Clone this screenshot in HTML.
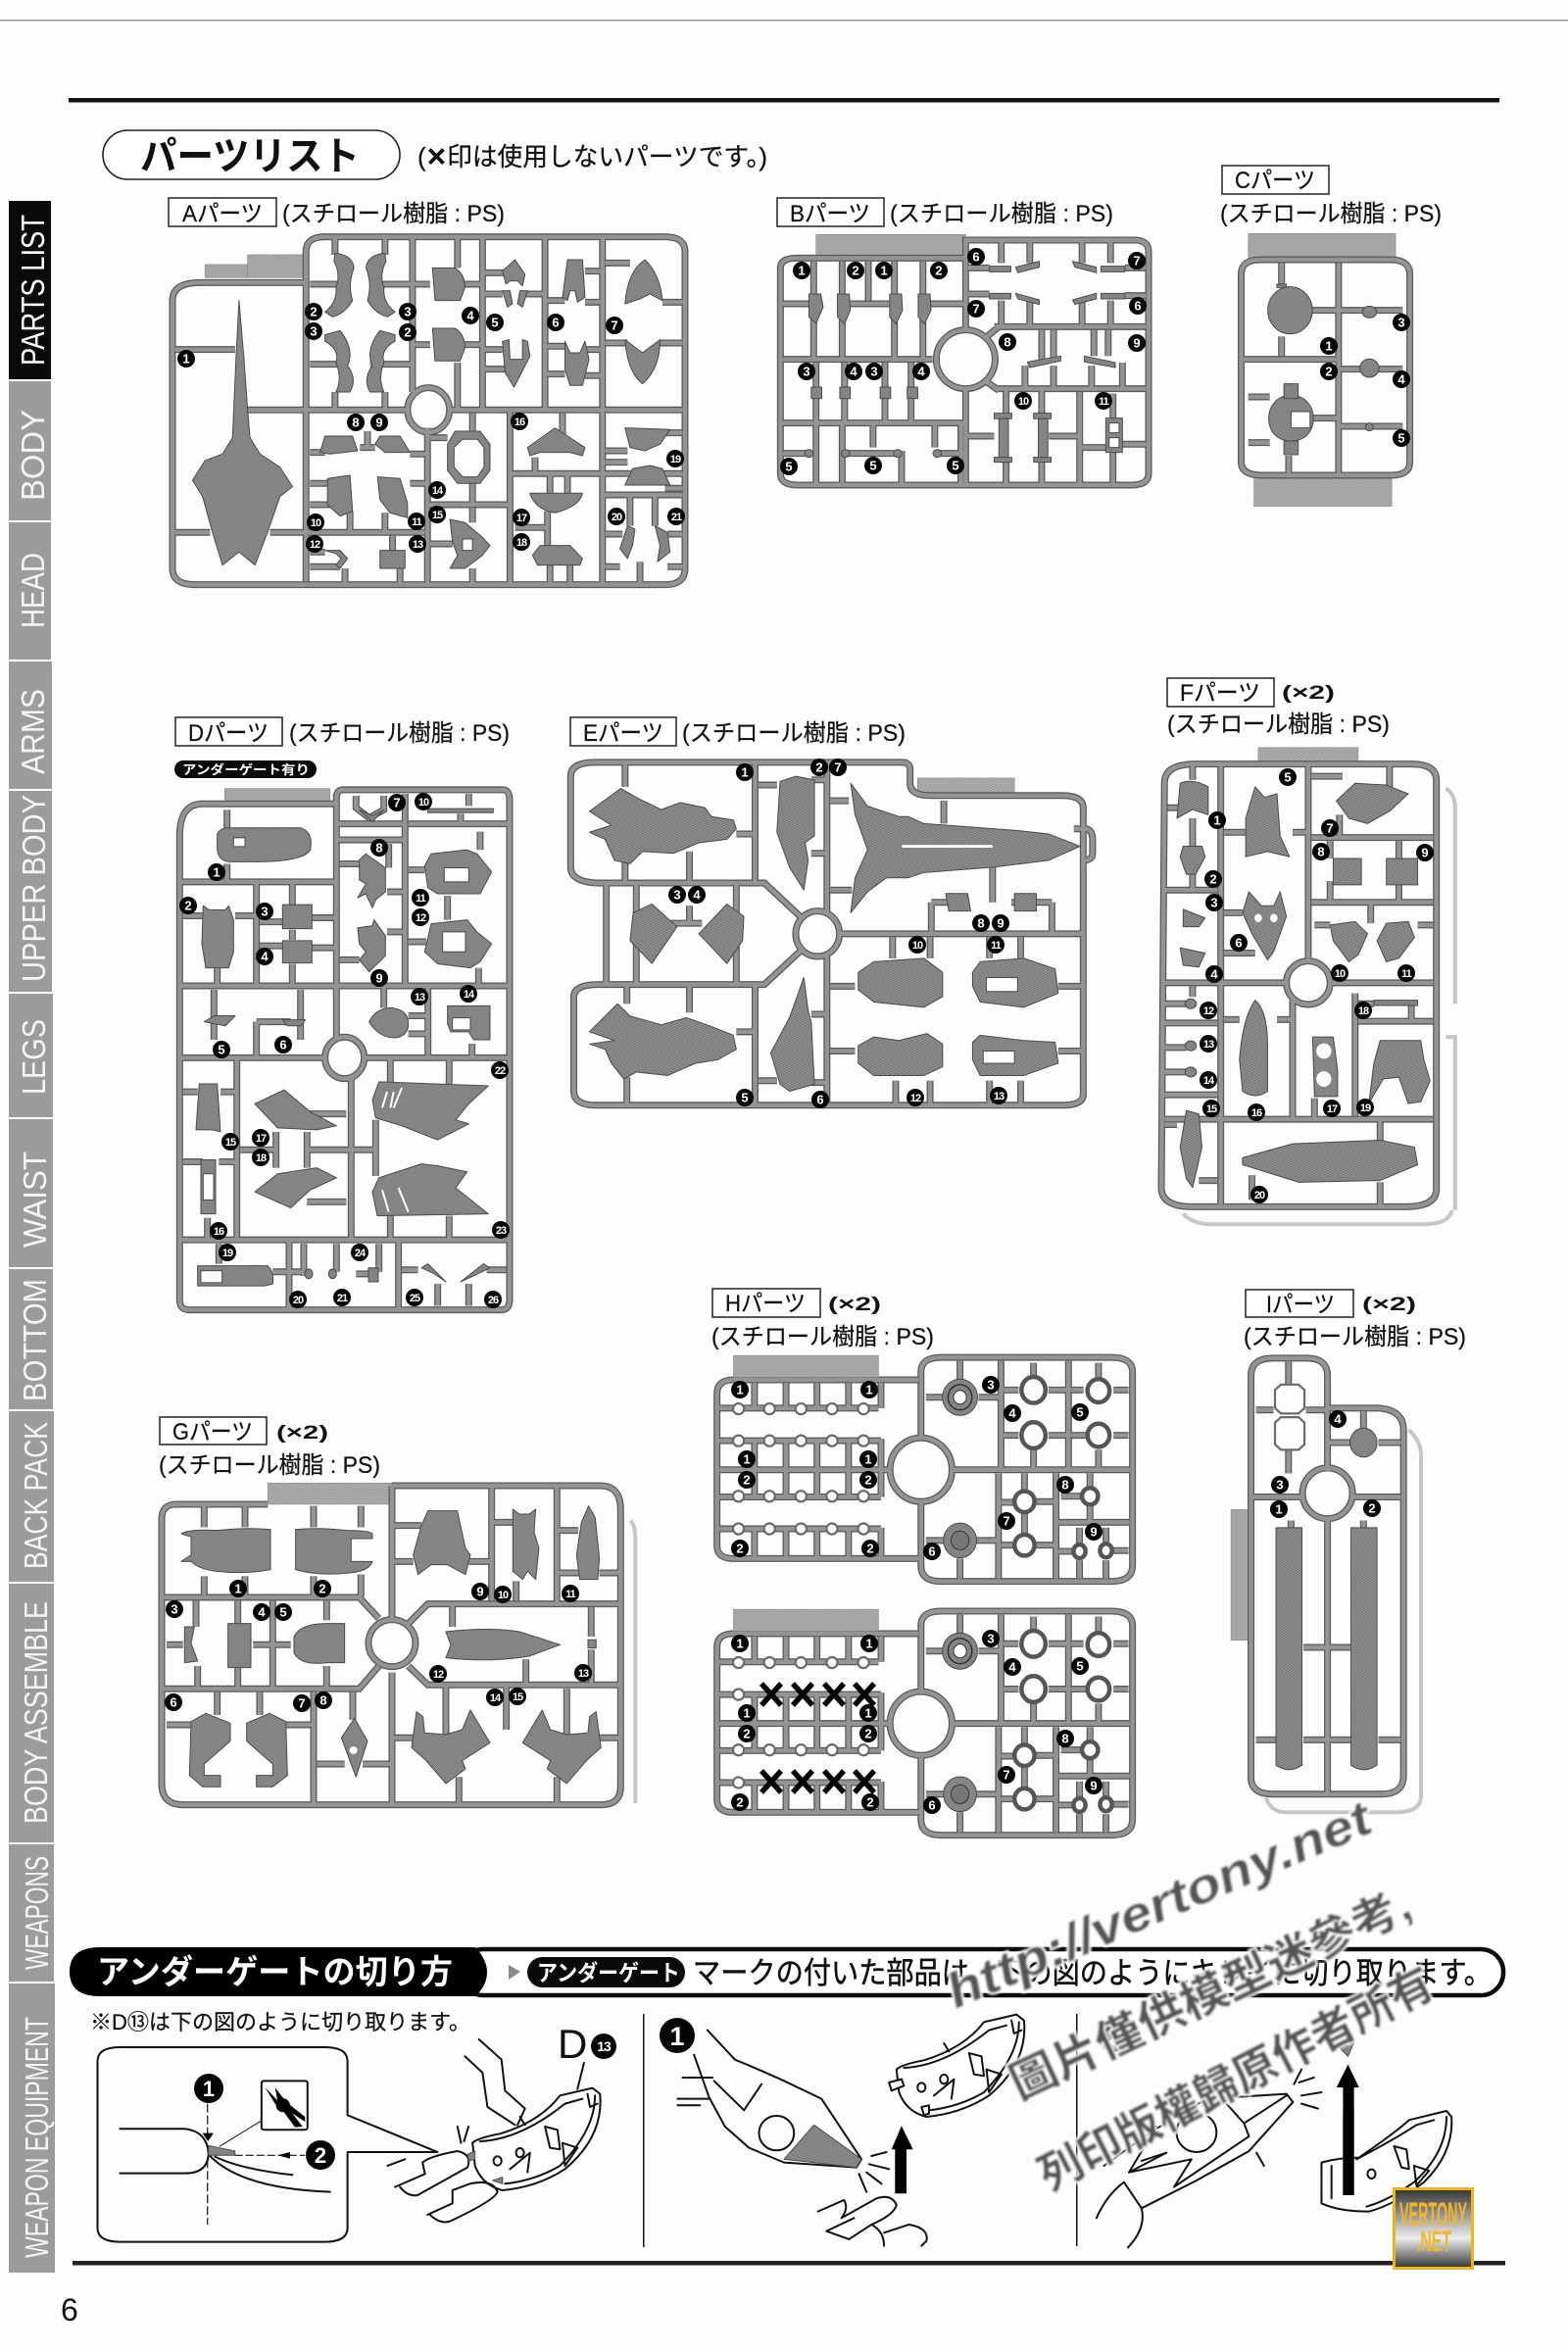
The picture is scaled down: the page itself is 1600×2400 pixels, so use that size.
<!DOCTYPE html>
<html lang="ja"><head><meta charset="utf-8"><title>パーツリスト</title>
<style>
html,body{margin:0;padding:0;background:#fdfdfb}
svg{display:block;font-family:"Liberation Sans","Noto Sans CJK JP",sans-serif}
path,ellipse,rect,line,polygon,circle{vector-effect:non-scaling-stroke}
.o{stroke:#5a5a5a;stroke-width:7;fill:none}
.i{stroke:#949494;stroke-width:4.4;fill:none}
.p{fill:url(#h);stroke:#4a4a4a;stroke-width:1;stroke-linejoin:round}
.w{fill:#fdfdfb;stroke:#4a4a4a;stroke-width:1}
.t{fill:url(#h2);stroke:#888;stroke-width:.6}
.g{fill:none;stroke:#c6c6c6;stroke-width:4}
.s{fill:none;stroke:#111;stroke-width:2;stroke-linejoin:round;stroke-linecap:round}
.sw{fill:#fff;stroke:#111;stroke-width:2;stroke-linejoin:round}
.k{fill:#000;stroke:none}
.rg{fill:#fdfdfb;stroke:#6a6a6a;stroke-width:2.2}
.rb{fill:#fdfdfb;stroke:#555;stroke-width:4.5}
.b circle{fill:#050505;r:9px}
.b text{fill:#fff;font-size:13px;font-weight:700;text-anchor:middle}
.b text.d{font-size:11px;letter-spacing:-1px}
.lb{fill:#fff;stroke:#222;stroke-width:1.5}
.l{font-size:24px;fill:#111;stroke:#111;stroke-width:.25}
.x2{font-size:19px;font-weight:700;fill:#111}
.sd{fill:#9c9c9c}
.st{font-size:33px;fill:#f5f5f5}
.wm{fill:#555;stroke:#fff;stroke-width:4;paint-order:stroke;filter:url(#bl);font-weight:700}
</style></head><body>
<svg xmlns="http://www.w3.org/2000/svg" width="1600" height="2400" viewBox="0 0 1600 2400">
<defs>
<pattern id="h" width="5" height="5" patternUnits="userSpaceOnUse" patternTransform="rotate(45)"><rect width="5" height="5" fill="#929292"/><rect width="2" height="5" fill="#707070"/></pattern>
<pattern id="h2" width="5" height="5" patternUnits="userSpaceOnUse" patternTransform="rotate(45)"><rect width="5" height="5" fill="#b2b2b2"/><rect width="2" height="5" fill="#949494"/></pattern>
<filter id="bl"><feGaussianBlur stdDeviation="1.1"/></filter>
<linearGradient id="lg" x1="0" y1="0" x2="0" y2="1"><stop offset="0" stop-color="#333"/><stop offset=".62" stop-color="#eee"/><stop offset="1" stop-color="#333"/></linearGradient>

<g id="ra">
<path d="M345 1440V620Q345 565 400 565H612M612 1480V470Q612 425 650 425H1330Q1370 425 1370 470V1440Q1370 1490 1330 1490H390Q345 1490 345 1440"/>
<ellipse cx="857" cy="955" rx="42" ry="68"/>
<path d="M495 955H815M900 955H1365M825 430V900M965 430V950M1090 430V950M1205 430V1485M1020 960V1485M855 1010V1485M1020 1150H1365M855 1245H1020M1205 1215H1365M345 1330H420M540 1330H850"/>
<path d="M350 770H470M670 430V480M770 430V480M620 570H680M750 570H825M620 815H680M740 815H825M670 900V950M770 900V950M825 570H860M930 570H965M825 755H860M930 755H965M915 430V520M915 810V950M965 535H1010M965 600H1005M1040 600H1090M965 770H1005M965 830H1010M1090 620H1130M1090 760H1130M1090 845H1130M1170 530H1210M1170 625H1205M1170 770H1205M1170 850H1205M1210 505H1260M1325 625H1365M1210 750H1255M1320 750H1365M735 1020V1070M720 1070H750M620 1085H650M820 1090H855M620 1180H655M820 1180H855M620 1245H660M700 1265V1330M770 1270V1330M620 1390H650M620 1435H680M785 1340V1385M690 1440V1485M800 1440V1485M860 1040H895M860 1365H905M945 965V1020M945 1180V1240M945 1255V1300M945 1440V1485M1070 1100V1150M1125 965V1030M1100 1150V1210M1135 1150V1210M1095 1265V1370M1030 1315H1095M1100 1430V1485M1140 1430V1485M1210 1080H1255M1210 1115H1255M1330 1025H1365M1330 1195H1365M1260 1220V1310M1310 1220V1310M1210 1335H1245M1335 1335H1365M1210 1435H1240M1335 1435H1365M1280 1420V1485"/>
</g>

<g id="rb">
<path d="M465 370V315H820Q850 315 850 350V1030Q850 1065 815 1065H110Q75 1065 75 1030V400Q75 370 110 370H465M465 370V590M465 770V1060M80 680H395M80 875H465M525 580H845M525 770H845"/>
<ellipse cx="465" cy="680" rx="62" ry="90"/>
<path d="M510 610L535 580M510 750L535 775M145 380V680M205 380V680M260 380V500M315 380V680M375 380V680M80 510H135M220 510H305M390 510H465M150 690V870M210 690V870M295 690V870M350 690V870M150 880V1060M205 880V1060M270 880V950M330 960V1060M400 880V950M455 880V1060M80 968H130M215 968H315M400 968H465"/>
<path d="M540 320V385M600 320V385M710 320V385M770 320V385M540 500V580M600 500V580M710 500V580M770 500V580M470 400H515M470 480H515M800 400H845M800 485H845M625 590V680M650 590V680M735 590V670M765 590V670M590 700V770M650 700V770M730 700V770M795 690V770M550 770V850M625 770V850M550 985V1060M625 985V1060M465 915H525M640 915H700M705 780V1060M710 950H760M790 940H845M775 785V860M775 965V1060"/>
</g>

<g id="rc">
<path d="M1045 420Q1045 375 1085 375H1360Q1400 375 1400 420V995Q1400 1035 1360 1035H1090Q1045 1035 1045 995ZM1250 385V1030M1050 680H1245M1130 385V455M1130 610V670M1195 530H1250M1250 530H1385M1250 710H1385M1250 885H1385M1195 860H1250M1060 795H1105M1060 935H1105M1145 975V1030"/>
</g>

<g id="rd">
<path d="M100 350Q100 270 170 270H575M580 280V255Q580 235 600 235H1090Q1110 235 1110 260V1510Q1110 1535 1085 1535H130Q100 1535 100 1510V350M580 245V860M790 245V720M100 725H1110M100 905H540M665 905H1110M100 465H575M335 465V720M580 320H785M800 320H1105M585 360H790M275 905V1360M100 1360H1110M625 950V1360M770 1365V1530M435 1365V1530M285 1135H395M495 1135H700M860 730V905M335 815V905M335 815H440"/>
<ellipse cx="605" cy="905" rx="60" ry="52"/>
<path d="M245 285V330M245 420V465M215 680V725M270 550H335M110 550H170M445 470V525M445 585V610M445 670V720M345 565H415M345 625H415M505 555H575M505 630H575M590 420H650M735 490H790M590 660H650M735 590H790M740 370V430M725 730V780M800 435H850M800 615H855M920 500V560M1020 340V385M1015 680V725M205 735V860M470 735V860M800 800H855M800 845H855M995 870V905M640 250V280L680 305L725 285V250M985 245V275M960 295V320M745 910V970M925 910V970M745 1300V1355M925 1300V1355M700 1060V1200M110 990H155M225 990H270M110 1165H170M220 1165H270M185 1305V1355M480 1370V1450M580 1370V1440M710 1370V1440M640 1445H680M385 1440H480M220 1370V1420M890 1470V1525M985 1470V1525M780 1435H830M1040 1435H1100M490 1045H610M490 1265H610M395 1090V1180M490 1090V1180"/>
</g>

<g id="re">
<path d="M75 535Q35 530 35 490V230Q35 190 75 190H565Q578 190 578 210V250Q578 285 610 285H820Q855 285 855 320V1140Q855 1170 820 1170H75Q40 1170 40 1130V860Q40 825 80 825H345L405 725M405 635L345 535H75M92 535V825M140 540V820M300 540V820M330 195V535M330 825V1165M445 195V625M445 735V1165M465 680H855M612 590V675M805 590V675M612 590H670M740 590H805"/>
<ellipse cx="430" cy="680" rx="35" ry="65"/>
<path d="M840 380H860Q870 385 870 410V450Q870 470 855 470M122 195V260M122 470V530M225 445V530M125 830V880M225 830V905M125 1090V1170M300 395H330M300 960H330M335 255H365M335 1100H365M420 240H445M420 450H445M420 910H445M420 1105H445M450 300H480M450 555H485M632 300V365M710 490V590M450 830H490M450 1015H490M815 830H855M815 1015H855M550 690V750M610 690V750M705 690V750M755 690V750M555 1100V1165M610 1100V1165M705 1100V1165M755 1100V1165M195 650H245M225 600V650"/>
</g>

<g id="rf">
<path d="M985 250Q985 195 1035 195H1380Q1420 195 1420 240V1410Q1420 1460 1370 1460H1030Q980 1460 980 1405ZM1075 200V1455M1215 200V760M1220 405H1415M1220 590H1415M985 820H1180M1250 820H1415M1290 850V1200M1295 930H1415M985 1210H1415M985 555H1070M1190 870V1205M1080 925H1105M1165 925H1190M985 935H1070M985 1140H1070M985 880H1020M985 1005H1020M985 1075H1020"/>
<ellipse cx="1215" cy="820" rx="35" ry="62"/>
<path d="M1030 200V240M990 320H1010M1080 390H1115M1190 390H1215M1220 230H1270M1345 200V260M1265 340V405M1250 415V465M1250 530V590M1360 415V465M1360 530V585M1315 595V650M1225 655H1250M1390 655H1415M1030 830V860M1080 620H1110M1080 735H1130M1380 870V925M1295 880H1320M1225 1150V1210M1330 1215V1280M1125 1370V1440M1330 1390V1455M985 1225H1005M1040 1385H1070M1030 350V430M1030 510V555"/>
</g>

<g id="rg">
<path d="M45 360Q45 315 90 315H370M750 258H1390Q1450 260 1450 330V1180Q1450 1235 1390 1235H110Q45 1235 45 1170V360M750 260V665M750 830V1230M50 600H650L710 665M50 880H650L710 810M1445 620H860L800 680M1445 868H860L800 810"/>
<circle cx="750" cy="740" r="72"/>
<path d="M385 610V880M1055 260V610M1255 260V615M510 890V1230M955 1150V1235M1285 880V1030M1255 1150V1235M915 875V1020M1100 870V1005M1360 630V720M1360 760V865M1160 790V865M935 620V690M175 320V385M300 320V385M510 320V385M655 320V385M175 535V598M300 535V598M510 535V598M655 530V598M150 610V690M155 810V880M278 610V680M278 815V880M60 745H110M325 745H440M550 610V670M550 810V880M215 890V960M345 890V960M60 990H135M420 990H505M630 890V975M520 1110H605M660 1110H745M755 380H840M755 490H815M985 490H1050M1060 370H1125M1260 395H1320M1260 525H1325M1385 525H1445M1130 550V610M755 1030H820M1385 1030H1445"/>
</g>

<g id="rh">
<path d="M465 292H95Q62 292 62 330V750Q62 785 95 785H470M470 450V270Q470 230 510 230H850Q893 230 893 270V805Q893 848 850 848H510Q470 848 470 805V630"/>
<ellipse cx="470" cy="540" rx="62" ry="88"/>
<path d="M530 540H888M67 540H405M630 240V540M765 240V535M625 550V840M740 550V840M745 685H888M67 370H385M67 460H390M67 615H390M67 703H390M390 300V370M390 455V615M390 700V785M137 300V370M200 300V370M262 300V370M325 300V370M137 460V615M200 460V615M262 460V615M325 460V615M137 703V785M200 703V785M262 703V785M325 703V785"/>
<path d="M548 240V290M480 340H515M585 340H630M635 320H665M725 320H765M770 320H795M855 320H885M695 245V285M825 245V290M635 445H665M725 445H765M770 445H800M855 445H885M695 485V540M825 485V540M480 735H515M580 735H625M548 785V840M677 550V595M677 660V715M630 630H655M700 628H745M630 748H655M700 748H740M750 613H790M808 550V587M808 640V685M745 765H773M855 763H885M787 700V743M840 700V740M787 790V840M840 790V840"/>
</g>

<g id="hp">
<use href="#rh" class="o"/><use href="#rh" class="i"/>
<ellipse cx="548" cy="340" rx="35" ry="50" class="p"/><ellipse cx="548" cy="340" rx="24" ry="35" fill="none" stroke="#333" stroke-width="1.5"/><ellipse cx="548" cy="340" rx="13" ry="19" fill="#fdfdfb" stroke="#333"/>
<ellipse cx="695" cy="320" rx="24" ry="36" class="rb"/><ellipse cx="825" cy="322" rx="22" ry="32" class="rb"/><ellipse cx="695" cy="445" rx="24" ry="36" class="rb"/><ellipse cx="825" cy="445" rx="22" ry="32" class="rb"/>
<ellipse cx="548" cy="735" rx="33" ry="48" class="p"/><ellipse cx="548" cy="735" rx="18" ry="26" fill="#777" stroke="#333"/>
<ellipse cx="677" cy="628" rx="20" ry="29" class="rb"/><ellipse cx="677" cy="748" rx="20" ry="29" class="rb"/><ellipse cx="808" cy="613" rx="16" ry="23" class="rb"/><ellipse cx="787" cy="765" rx="12" ry="19" class="rb"/><ellipse cx="840" cy="763" rx="12" ry="19" class="rb"/>
<ellipse cx="105" cy="372" rx="11" ry="15" class="rg"/><ellipse cx="167" cy="372" rx="11" ry="15" class="rg"/><ellipse cx="230" cy="372" rx="11" ry="15" class="rg"/><ellipse cx="292" cy="372" rx="11" ry="15" class="rg"/><ellipse cx="355" cy="372" rx="11" ry="15" class="rg"/>
<ellipse cx="105" cy="613" rx="11" ry="15" class="rg"/><ellipse cx="167" cy="613" rx="11" ry="15" class="rg"/><ellipse cx="230" cy="613" rx="11" ry="15" class="rg"/><ellipse cx="292" cy="613" rx="11" ry="15" class="rg"/><ellipse cx="355" cy="613" rx="11" ry="15" class="rg"/>
<ellipse cx="105" cy="460" rx="11" ry="15" class="rg"/><ellipse cx="105" cy="703" rx="11" ry="15" class="rg"/>
<path class="t" d="M95 225H385V285H95Z"/>
</g>

<g id="pt">
<path class="sw" d="M945 800Q955 785 1000 772Q1080 735 1120 655L1185 632L1200 650Q1208 780 1130 880Q1075 935 1005 945Q965 930 950 870Z"/>
<path class="s" d="M960 795Q1040 790 1130 680L1165 665M1190 655Q1190 760 1120 870Q1070 915 1010 925M1175 650L1180 690L1195 680M1090 750L1115 760L1120 820L1100 815ZM1125 800L1155 815L1130 870ZM1040 720L1050 745M1020 880L1060 830L1055 890"/>
<ellipse class="s" cx="995" cy="855" rx="8" ry="14"/><ellipse class="s" cx="1040" cy="830" rx="8" ry="14"/>
</g>
</defs>

<rect width="1600" height="2400" fill="#fdfdfb"/>
<rect x="0" y="20" width="1600" height="1.5" fill="#999"/>
<rect x="70" y="100" width="1460" height="4.5" fill="#111"/>
<rect x="74" y="2307" width="1462" height="4.5" fill="#222"/>

<!-- sidebar -->
<rect x="9" y="205" width="43" height="182" fill="#0a0a0a"/>
<rect class="sd" x="9" y="389" width="43" height="142"/><rect class="sd" x="9" y="533" width="43" height="140"/><rect class="sd" x="9" y="675" width="44" height="130"/><rect class="sd" x="9" y="807" width="44" height="205"/><rect class="sd" x="9" y="1014" width="45" height="126"/><rect class="sd" x="9" y="1142" width="45" height="151"/><rect class="sd" x="9" y="1295" width="45" height="143"/><rect class="sd" x="9" y="1440" width="46" height="174"/><rect class="sd" x="9" y="1616" width="46" height="264"/><rect class="sd" x="9" y="1882" width="46" height="140"/><rect class="sd" x="9" y="2024" width="47" height="295"/>
<g class="st">
<text transform="translate(45,373) rotate(-90)" textLength="154" lengthAdjust="spacingAndGlyphs" fill="#fff">PARTS LIST</text>
<text transform="translate(45,511) rotate(-90)" textLength="93" lengthAdjust="spacingAndGlyphs">BODY</text>
<text transform="translate(45,641) rotate(-90)" textLength="77" lengthAdjust="spacingAndGlyphs">HEAD</text>
<text transform="translate(45,790) rotate(-90)" textLength="87" lengthAdjust="spacingAndGlyphs">ARMS</text>
<text transform="translate(46,1002) rotate(-90)" textLength="191" lengthAdjust="spacingAndGlyphs">UPPER BODY</text>
<text transform="translate(46,1117) rotate(-90)" textLength="77" lengthAdjust="spacingAndGlyphs">LEGS</text>
<text transform="translate(47,1273) rotate(-90)" textLength="98" lengthAdjust="spacingAndGlyphs">WAIST</text>
<text transform="translate(47,1430) rotate(-90)" textLength="125" lengthAdjust="spacingAndGlyphs">BOTTOM</text>
<text transform="translate(48,1601) rotate(-90)" textLength="150" lengthAdjust="spacingAndGlyphs">BACK PACK</text>
<text transform="translate(48,1861) rotate(-90)" textLength="227" lengthAdjust="spacingAndGlyphs">BODY ASSEMBLE</text>
<text transform="translate(49,2010) rotate(-90)" textLength="116" lengthAdjust="spacingAndGlyphs">WEAPONS</text>
<text transform="translate(49,2304) rotate(-90)" textLength="246" lengthAdjust="spacingAndGlyphs">WEAPON EQUIPMENT</text>
</g>

<!-- title -->
<rect x="105" y="133" width="303" height="50" rx="25" fill="#fff" stroke="#222" stroke-width="1.6"/>
<text x="143" y="173" font-size="40" font-weight="700" textLength="224" lengthAdjust="spacingAndGlyphs" fill="#111">パーツリスト</text>
<text x="426" y="169" font-size="26" textLength="357" lengthAdjust="spacingAndGlyphs" fill="#111" stroke="#111" stroke-width=".25">(<tspan font-weight="700">✕</tspan>印は使用しないパーツです。)</text>

<!-- labels -->
<rect class="lb" x="172" y="202" width="110" height="29"/><text class="l" x="186" y="226" textLength="82" lengthAdjust="spacingAndGlyphs">Aパーツ</text><text class="l" x="288" y="226" textLength="227" lengthAdjust="spacingAndGlyphs">(スチロール樹脂 : PS)</text>
<rect class="lb" x="793" y="202" width="109" height="29"/><text class="l" x="806" y="226" textLength="82" lengthAdjust="spacingAndGlyphs">Bパーツ</text><text class="l" x="908" y="226" textLength="228" lengthAdjust="spacingAndGlyphs">(スチロール樹脂 : PS)</text>
<rect class="lb" x="1247" y="169" width="109" height="29"/><text class="l" x="1260" y="192" textLength="82" lengthAdjust="spacingAndGlyphs">Cパーツ</text><text class="l" x="1245" y="226" textLength="226" lengthAdjust="spacingAndGlyphs">(スチロール樹脂 : PS)</text>
<rect class="lb" x="179" y="732" width="109" height="29"/><text class="l" x="192" y="756" textLength="82" lengthAdjust="spacingAndGlyphs">Dパーツ</text><text class="l" x="295" y="756" textLength="225" lengthAdjust="spacingAndGlyphs">(スチロール樹脂 : PS)</text>
<rect x="178" y="776" width="145" height="18" rx="9" fill="#0a0a0a"/><text x="186" y="790" font-size="13" font-weight="700" fill="#fff" textLength="130" lengthAdjust="spacingAndGlyphs">アンダーゲート有り</text>
<rect class="lb" x="582" y="732" width="108" height="29"/><text class="l" x="595" y="756" textLength="82" lengthAdjust="spacingAndGlyphs">Eパーツ</text><text class="l" x="696" y="756" textLength="228" lengthAdjust="spacingAndGlyphs">(スチロール樹脂 : PS)</text>
<rect class="lb" x="1191" y="692" width="109" height="29"/><text class="l" x="1204" y="715" textLength="82" lengthAdjust="spacingAndGlyphs">Fパーツ</text><text class="x2" x="1308" y="713" textLength="54" lengthAdjust="spacingAndGlyphs">(×2)</text><text class="l" x="1191" y="747" textLength="227" lengthAdjust="spacingAndGlyphs">(スチロール樹脂 : PS)</text>
<rect class="lb" x="163" y="1446" width="109" height="28"/><text class="l" x="176" y="1469" textLength="82" lengthAdjust="spacingAndGlyphs">Gパーツ</text><text class="x2" x="282" y="1468" textLength="53" lengthAdjust="spacingAndGlyphs">(×2)</text><text class="l" x="162" y="1503" textLength="226" lengthAdjust="spacingAndGlyphs">(スチロール樹脂 : PS)</text>
<rect class="lb" x="727" y="1315" width="110" height="29"/><text class="l" x="740" y="1338" textLength="82" lengthAdjust="spacingAndGlyphs">Hパーツ</text><text class="x2" x="845" y="1337" textLength="54" lengthAdjust="spacingAndGlyphs">(×2)</text><text class="l" x="726" y="1372" textLength="227" lengthAdjust="spacingAndGlyphs">(スチロール樹脂 : PS)</text>
<rect class="lb" x="1271" y="1316" width="110" height="28"/><text class="l" x="1292" y="1339" textLength="70" lengthAdjust="spacingAndGlyphs">Iパーツ</text><text class="x2" x="1390" y="1337" textLength="55" lengthAdjust="spacingAndGlyphs">(×2)</text><text class="l" x="1269" y="1372" textLength="227" lengthAdjust="spacingAndGlyphs">(スチロール樹脂 : PS)</text>

<!-- A -->
<g transform="translate(0,100) scale(.5102,.3333)">
<path class="t" d="M495 480H610V550H495ZM410 510H495V550H410Z"/>
<use href="#ra" class="o"/><use href="#ra" class="i"/>
<g class="p">
<path d="M478 620L488 800L495 950L500 1040L520 1090L560 1130L585 1190L560 1220L535 1330L510 1430L478 1390L445 1430L425 1330L405 1220L385 1170L410 1110L445 1090L465 1040L472 800Z"/>
<path d="M670 475Q705 480 708 520Q695 570 705 620Q690 660 665 670L650 655Q675 625 672 580Q682 540 668 500Z"/>
<path d="M770 475Q735 480 732 520Q745 570 735 620Q750 660 775 670L790 655Q765 625 768 580Q758 540 772 500Z"/>
<path d="M650 725L680 712Q710 770 695 820Q715 860 700 900H672Q685 860 672 810Q680 770 650 745Z"/>
<path d="M790 725L760 712Q730 770 745 820Q725 860 740 900H768Q755 860 768 810Q760 770 790 745Z"/>
<path d="M865 520H910Q930 540 930 580L920 620H870Z"/><path d="M865 705H910Q930 725 930 765L920 805H870Z"/>
<path d="M1030 495L1050 540L1045 575L1035 560H1020L1012 570L1005 530Z"/><path d="M1005 590L1020 590L1025 630L1015 640Z"/><path d="M1040 590L1055 590L1045 640L1035 630Z"/>
<path d="M1005 745L1018 740L1020 800L1045 800L1045 740L1055 745L1060 790L1040 850L1028 885L1010 840Z"/>
<path d="M1135 495H1165L1170 610L1155 625L1150 590H1140L1135 620L1125 610Z"/><path d="M1130 745L1140 780H1160L1170 745L1178 800L1165 880H1140L1130 830Z"/>
<path d="M1290 495Q1320 540 1325 620L1300 600L1280 615L1250 630Q1255 530 1290 495Z"/><path d="M1250 740L1285 780L1320 740Q1320 830 1285 875Q1255 840 1250 740Z"/>
<path d="M650 1035H705L715 1080L660 1090L640 1085Z"/><path d="M760 1035H800L820 1085L770 1085L750 1060Z"/>
<path d="M655 1165L700 1155L705 1265L680 1280L655 1245Z"/><path d="M755 1160L800 1165L815 1240L815 1285L780 1270L760 1230Z"/>
<path d="M650 1385L680 1385L695 1410L680 1440L672 1430L682 1410L672 1395Z"/><path d="M760 1385H810V1440H760Z"/>
<path fill-rule="evenodd" d="M910 1020H960L980 1060V1140L960 1180H915L895 1140V1060ZM925 1045H955L968 1070V1130L955 1160H925L908 1130V1070Z"/>
<path fill-rule="evenodd" d="M900 1290L930 1300L965 1345L980 1370L965 1400L930 1440L900 1440L915 1400L905 1360ZM925 1350H945V1385H925Z"/>
<path d="M1055 1070L1110 1010L1170 1070L1165 1095L1140 1085H1080L1060 1095Z"/>
<path d="M1060 1210H1165Q1160 1250 1110 1270Q1070 1260 1060 1210Z"/><path d="M1065 1400L1080 1370H1140L1165 1410L1160 1430H1075Z"/>
<path d="M1250 1010L1340 1015L1320 1060L1290 1080L1260 1070Z"/><path d="M1250 1185L1265 1135L1300 1125L1325 1135L1340 1185Z"/>
<path d="M1255 1310L1270 1320L1265 1370L1255 1410L1240 1380Z"/><path d="M1310 1310L1335 1330L1340 1390L1315 1420L1320 1370Z"/>
</g></g>
<g class="b"><circle cx="190" cy="366"/><text x="190" y="370.500">1</text><circle cx="320" cy="318"/><text x="320" y="322.500">2</text><circle cx="320" cy="338"/><text x="320" y="342.500">3</text><circle cx="416" cy="318"/><text x="416" y="322.500">3</text><circle cx="416" cy="339"/><text x="416" y="343.500">2</text><circle cx="480" cy="322"/><text x="480" y="326.500">4</text><circle cx="505" cy="329"/><text x="505" y="333.500">5</text><circle cx="567" cy="329"/><text x="567" y="333.500">6</text><circle cx="627" cy="332"/><text x="627" y="336.500">7</text><circle cx="363" cy="431"/><text x="363" y="435.500">8</text><circle cx="387" cy="431"/><text x="387" y="435.500">9</text>
<circle cx="322" cy="533"/><text class="d" x="322" y="537">10</text><circle cx="425" cy="532"/><text class="d" x="425" y="536">11</text><circle cx="321" cy="555"/><text class="d" x="321" y="559">12</text><circle cx="426" cy="555"/><text class="d" x="426" y="559">13</text><circle cx="446" cy="500"/><text class="d" x="446" y="504">14</text><circle cx="446" cy="525"/><text class="d" x="446" y="529">15</text><circle cx="530" cy="430"/><text class="d" x="530" y="434">16</text><circle cx="532" cy="528"/><text class="d" x="532" y="532">17</text><circle cx="532" cy="553"/><text class="d" x="532" y="557">18</text><circle cx="689" cy="468"/><text class="d" x="689" y="472">19</text><circle cx="629" cy="527"/><text class="d" x="629" y="531">20</text><circle cx="690" cy="527"/><text class="d" x="690" y="531">21</text></g>

<!-- B C -->
<g transform="translate(760,140) scale(.4847,.3333)">
<path class="t" d="M150 298H465V365H150Z"/>
<path class="t" d="M1060 295H1370V375H1060Z"/><path class="t" d="M1072 1035H1362V1130H1072Z"/>
<use href="#rb" class="o"/><use href="#rb" class="i"/>
<use href="#rc" class="o"/><use href="#rc" class="i"/>
<g class="p">
<path d="M135 480H160L165 520L150 570L135 550Z"/><path d="M195 480H220L222 530L210 572L195 550Z"/><path d="M305 480H330L332 530L318 572L305 550Z"/><path d="M365 480H390L392 530L378 572L365 550Z"/>
<path d="M140 765H162V800H140Z"/><path d="M200 765H222V800H200Z"/><path d="M285 765H307V800H285Z"/><path d="M342 765H364V800H342Z"/>
<path d="M515 395H560V412H515Z"/><path d="M570 398L620 380V398L575 415Z"/><path d="M690 380L740 398V415L695 398Z"/><path d="M750 395H800V412H750Z"/>
<path d="M515 478H560V495H515Z"/><path d="M570 478L620 498V512L575 495Z"/><path d="M690 498L740 478V495L695 512Z"/><path d="M750 478H800V495H750Z"/>
<path d="M595 688L665 670V685L600 705Z"/><path d="M715 670L780 690V705L715 688Z"/>
<path d="M525 845H562V862H525Z"/><path d="M525 980H562V995H525Z"/><path d="M535 862H555V980H535Z"/><path d="M608 845H645V862H608Z"/><path d="M608 980H645V995H608Z"/><path d="M618 862H638V980H618Z"/>
<path fill-rule="evenodd" d="M760 860H795V965H760ZM767 875H788V905H767ZM767 920H788V950H767Z"/>
<ellipse cx="1148" cy="530" rx="47" ry="72"/><path d="M1120 450H1140V460H1120Z"/>
<path fill-rule="evenodd" d="M1150 790C1180 790 1197 825 1197 860C1197 900 1180 930 1150 930C1120 930 1103 900 1103 860C1103 825 1120 790 1150 790ZM1150 840V890H1190V840Z"/>
<path d="M1135 755H1165V800H1135Z"/><path d="M1135 930H1165V972H1135Z"/>
<ellipse cx="1315" cy="535" rx="15" ry="18"/><ellipse cx="1315" cy="707" rx="20" ry="28"/><ellipse cx="1315" cy="887" rx="8" ry="12"/>
<ellipse cx="135" cy="968" rx="9" ry="12"/><ellipse cx="212" cy="968" rx="9" ry="12"/><ellipse cx="322" cy="968" rx="9" ry="12"/><ellipse cx="405" cy="968" rx="9" ry="12"/>
</g></g>
<g class="b"><circle cx="818" cy="276"/><text x="818" y="280.500">1</text><circle cx="873" cy="276"/><text x="873" y="280.500">2</text><circle cx="902" cy="276"/><text x="902" y="280.500">1</text><circle cx="958" cy="276"/><text x="958" y="280.500">2</text><circle cx="996" cy="262"/><text x="996" y="266.500">6</text><circle cx="1160" cy="266"/><text x="1160" y="270.500">7</text><circle cx="996" cy="315"/><text x="996" y="319.500">7</text><circle cx="1161" cy="312"/><text x="1161" y="316.500">6</text><circle cx="1028" cy="349"/><text x="1028" y="353.500">8</text><circle cx="1160" cy="350"/><text x="1160" y="354.500">9</text><circle cx="823" cy="379"/><text x="823" y="383.500">3</text><circle cx="871" cy="379"/><text x="871" y="383.500">4</text><circle cx="892" cy="379"/><text x="892" y="383.500">3</text><circle cx="940" cy="379"/><text x="940" y="383.500">4</text><circle cx="1044" cy="409"/><text class="d" x="1044" y="413">10</text><circle cx="1126" cy="409"/><text class="d" x="1126" y="413">11</text><circle cx="805" cy="476"/><text x="805" y="480.500">5</text><circle cx="891" cy="475"/><text x="891" y="479.500">5</text><circle cx="975" cy="475"/><text x="975" y="479.500">5</text>
<circle cx="1430" cy="329"/><text x="1430" y="333.500">3</text><circle cx="1356" cy="353"/><text x="1356" y="357.500">1</text><circle cx="1356" cy="379"/><text x="1356" y="383.500">2</text><circle cx="1430" cy="387"/><text x="1430" y="391.500">4</text><circle cx="1430" cy="447"/><text x="1430" y="451.500">5</text></g>

<!-- D -->
<g transform="translate(150,710) scale(.3333,.4082)">
<path class="t" d="M238 232H560V272H238Z"/>
<use href="#rd" class="o"/><use href="#rd" class="i"/>
<g class="p">
<path fill-rule="evenodd" d="M215 345Q225 330 250 330H470Q510 340 500 385Q480 415 330 415H250Q215 410 215 380ZM265 355V377H300V355Z"/>
<path d="M172 525L190 535H240L250 525L265 560L265 640L250 680H180L168 620Z"/>
<path d="M415 522H505V582H415Z"/><path d="M415 612H505V668H415Z"/>
<path d="M650 410L670 395L730 430L730 490L700 510L690 530L670 495L645 505L670 470L650 460L650 440Z"/><path d="M645 580L690 575L695 560L730 600L730 650L680 690L650 660L670 640L650 620Z"/>
<path fill-rule="evenodd" d="M850 425L870 395L980 385L1010 395L1055 440L1020 495L890 495L860 480ZM910 430V465H985V430Z"/>
<path fill-rule="evenodd" d="M870 570L980 560L1010 590L1055 620L1020 665L990 680L890 670L850 640ZM905 590V640H975V590Z"/>
<path d="M680 815Q700 780 750 780Q800 785 800 820Q800 850 760 855Q710 855 680 815Z"/>
<path fill-rule="evenodd" d="M920 775H1050V860H1000L985 840H930L920 820ZM935 805V835H990V805Z"/>
<path d="M160 970H215L225 1090L200 1085H170L150 1085Z"/>
<path fill-rule="evenodd" d="M165 1160H210V1295H165ZM172 1195V1260H204V1195Z"/>
<path d="M330 1020L420 985L500 1040L580 1075L520 1085L400 1080Z"/><path d="M330 1240L400 1195L520 1180L580 1205L500 1235L440 1280Z"/>
<path d="M690 1010L710 965L1045 975L985 1020L945 1060L985 1070L890 1110L780 1075L700 1055Z"/><path d="M690 1240L710 1205L840 1170L890 1175L980 1190L945 1230L1045 1295L705 1300Z"/>
<path fill-rule="evenodd" d="M155 1425H370Q390 1440 385 1470L360 1475H155ZM165 1437V1467H230V1437Z"/>
<circle cx="495" cy="1445" r="12"/><circle cx="568" cy="1445" r="12"/><path d="M678 1430H708V1465H678Z"/>
<path d="M840 1430L860 1420L915 1465L880 1445Z"/><path d="M960 1465L1030 1420L1050 1430L1000 1450Z"/>
<path d="M175 815L205 800H270L240 825Z"/><path d="M415 810H485L470 825H430Z"/><path d="M650 285L690 300L725 285L690 315Z"/><path d="M860 282H1060V292H860Z"/>
</g>
<path d="M735 990L720 1030M755 990L745 1030M780 980L755 1030M720 1235L740 1290M770 1230L800 1290" stroke="#fff" stroke-width="2" fill="none"/>
</g>
<g class="b"><circle cx="221" cy="890"/><text x="221" y="894.500">1</text><circle cx="192" cy="924"/><text x="192" y="928.500">2</text><circle cx="270" cy="930"/><text x="270" y="934.500">3</text><circle cx="270" cy="976"/><text x="270" y="980.500">4</text><circle cx="226" cy="1071"/><text x="226" y="1075.500">5</text><circle cx="289" cy="1066"/><text x="289" y="1070.500">6</text><circle cx="405" cy="819"/><text x="405" y="823.500">7</text><circle cx="387" cy="865"/><text x="387" y="869.500">8</text><circle cx="387" cy="998"/><text x="387" y="1002.500">9</text><circle cx="432" cy="818"/><text class="d" x="432" y="822">10</text><circle cx="429" cy="916"/><text class="d" x="429" y="920">11</text><circle cx="429" cy="936"/><text class="d" x="429" y="940">12</text><circle cx="428" cy="1017"/><text class="d" x="428" y="1021">13</text><circle cx="478" cy="1014"/><text class="d" x="478" y="1018">14</text><circle cx="235" cy="1165"/><text class="d" x="235" y="1169">15</text><circle cx="223" cy="1256"/><text class="d" x="223" y="1260">16</text><circle cx="266" cy="1161"/><text class="d" x="266" y="1165">17</text><circle cx="266" cy="1181"/><text class="d" x="266" y="1185">18</text><circle cx="232" cy="1278"/><text class="d" x="232" y="1282">19</text><circle cx="304" cy="1326"/><text class="d" x="304" y="1330">20</text><circle cx="349" cy="1324"/><text class="d" x="349" y="1328">21</text><circle cx="510" cy="1092"/><text class="d" x="510" y="1096">22</text><circle cx="511" cy="1255"/><text class="d" x="511" y="1259">23</text><circle cx="367" cy="1278"/><text class="d" x="367" y="1282">24</text><circle cx="423" cy="1324"/><text class="d" x="423" y="1328">25</text><circle cx="503" cy="1326"/><text class="d" x="503" y="1330">26</text></g>

<!-- E F -->
<g transform="translate(560,710) scale(.6378,.3571)">
<path class="t" d="M590 235H745V285H590Z"/><path class="t" d="M1135 148H1295V190H1135Z"/>
<path class="g" d="M1435 265Q1450 280 1450 320V880M1435 975H1450V1470M1015 1480Q1030 1510 1060 1510H1400Q1440 1510 1445 1470"/>
<use href="#re" class="o"/><use href="#re" class="i"/>
<use href="#rf" class="o"/><use href="#rf" class="i"/>
<g class="p">
<path d="M115 265L145 295L180 325L210 305L250 320L260 345L295 355L300 380L285 410L240 420L200 450L150 445L130 480L105 470L90 410L65 390L100 370L65 330Z"/>
<path d="M110 880L130 915L180 940L220 920L260 945L295 970L300 1010L270 1040L235 1050L190 1085L140 1075L120 1095L100 1050L90 1010L65 995L105 985L65 960Z"/>
<path d="M370 245L395 230L425 240L425 400L410 420L415 470L408 555L385 490L365 390Z"/><path d="M408 805L415 900L420 935L425 1110L385 1130L370 1110L355 1020L385 920Z"/>
<path d="M483 250L510 315L560 345L575 345L600 365L750 385L800 395L850 430L800 470L710 490L600 505L575 520L540 520L510 560L483 620L490 520L510 440L490 340Z"/>
<path d="M165 595L205 660L165 765L130 700L135 620Z"/><path d="M285 595L312 630L310 700L285 765L240 680Z"/>
<path d="M635 565H670L675 615H640Z"/><path d="M745 565H780V615H745Z"/>
<path d="M520 760L600 750L630 790L630 860L600 890L520 875L495 840V790Z"/>
<path fill-rule="evenodd" d="M690 760L760 750L810 780L815 850L760 890L690 875L678 830V790ZM700 805V845H750V805Z"/>
<path d="M520 975L560 985L605 965L630 995L630 1060L600 1085L520 1085L495 1050V1000Z"/>
<path fill-rule="evenodd" d="M690 970L760 985L810 990L815 1050L760 1085L690 1085L678 1040V990ZM695 1015V1050H745V1015Z"/>
<path d="M1010 250Q1030 235 1055 260L1055 340L1030 325L1005 350Z"/><path d="M1015 430L1045 430L1050 460L1035 510L1020 510L1010 460Z"/>
<path d="M1015 610L1050 635L1040 660L1015 660Z"/><path d="M1010 720L1050 735L1040 775L1015 770Z"/>
<path d="M1130 260L1145 290L1165 280L1170 400L1185 460L1150 445L1115 460L1115 350Z"/>
<path d="M1120 560L1140 600L1160 600L1170 560L1180 630L1160 730L1150 755L1125 680L1110 620Z"/>
<path d="M1290 250L1340 255L1375 280L1345 330L1310 365L1280 350L1260 300Z"/>
<path d="M1255 465H1300V540H1255Z"/><path d="M1340 465H1390V540H1340Z"/>
<path d="M1250 655L1290 645L1310 680L1295 740L1280 760L1255 700Z"/><path d="M1340 650L1375 645L1385 690L1360 750L1340 760L1325 700Z"/>
<ellipse cx="1027" cy="880" rx="9" ry="14"/><ellipse cx="1027" cy="1000" rx="9" ry="14"/><ellipse cx="1027" cy="1075" rx="9" ry="14"/>
<path d="M1130 870Q1150 900 1150 1000L1150 1130Q1130 1155 1110 1130L1105 1040Q1110 920 1130 870Z"/>
<path d="M1222 975H1255L1262 1070L1262 1145L1225 1145Z"/>
<path d="M1320 870H1390V885H1320Z"/>
<path d="M1330 985H1395L1400 1040L1410 1100L1395 1160L1375 1165L1360 1090L1335 1095L1312 1165L1320 1050Z"/>
<path d="M1020 1185L1040 1195L1045 1290L1030 1405L1020 1380L1010 1290Z"/>
<path d="M1110 1320L1190 1280L1330 1270L1385 1290L1390 1340L1330 1385L1200 1390L1110 1340Z"/>
</g>
<g fill="#fdfdfb"><path d="M565 426H710V434H565Z"/><ellipse cx="1240" cy="1015" rx="12" ry="22"/><ellipse cx="1240" cy="1095" rx="12" ry="22"/><ellipse cx="1135" cy="635" rx="6" ry="12"/><ellipse cx="1160" cy="635" rx="6" ry="12"/></g>
</g>
<g class="b"><circle cx="760" cy="788"/><text x="760" y="792.500">1</text><circle cx="836" cy="783"/><text x="836" y="787.500">2</text><circle cx="855" cy="783"/><text x="855" y="787.500">7</text><circle cx="691" cy="913"/><text x="691" y="917.500">3</text><circle cx="711" cy="913"/><text x="711" y="917.500">4</text><circle cx="1001" cy="942"/><text x="1001" y="946.500">8</text><circle cx="1021" cy="942"/><text x="1021" y="946.500">9</text><circle cx="936" cy="964"/><text class="d" x="936" y="968">10</text><circle cx="1016" cy="964"/><text class="d" x="1016" y="968">11</text><circle cx="760" cy="1120"/><text x="760" y="1124.500">5</text><circle cx="837" cy="1122"/><text x="837" y="1126.500">6</text><circle cx="934" cy="1120"/><text class="d" x="934" y="1124">12</text><circle cx="1019" cy="1118"/><text class="d" x="1019" y="1122">13</text>
<circle cx="1242" cy="837"/><text x="1242" y="841.500">1</text><circle cx="1238" cy="897"/><text x="1238" y="901.500">2</text><circle cx="1239" cy="921"/><text x="1239" y="925.500">3</text><circle cx="1239" cy="994"/><text x="1239" y="998.500">4</text><circle cx="1314" cy="793"/><text x="1314" y="797.500">5</text><circle cx="1264" cy="962"/><text x="1264" y="966.500">6</text><circle cx="1357" cy="845"/><text x="1357" y="849.500">7</text><circle cx="1348" cy="869"/><text x="1348" y="873.500">8</text><circle cx="1454" cy="870"/><text x="1454" y="874.500">9</text><circle cx="1367" cy="993"/><text class="d" x="1367" y="997">10</text><circle cx="1435" cy="993"/><text class="d" x="1435" y="997">11</text><circle cx="1233" cy="1031"/><text class="d" x="1233" y="1035">12</text><circle cx="1233" cy="1065"/><text class="d" x="1233" y="1069">13</text><circle cx="1233" cy="1102"/><text class="d" x="1233" y="1106">14</text><circle cx="1236" cy="1131"/><text class="d" x="1236" y="1135">15</text><circle cx="1282" cy="1135"/><text class="d" x="1282" y="1139">16</text><circle cx="1359" cy="1131"/><text class="d" x="1359" y="1135">17</text><circle cx="1391" cy="1031"/><text class="d" x="1391" y="1035">18</text><circle cx="1393" cy="1130"/><text class="d" x="1393" y="1134">19</text><circle cx="1285" cy="1219"/><text class="d" x="1285" y="1223">20</text></g>

<!-- G -->
<g transform="translate(150,1430) scale(.3333,.3333)">
<path class="t" d="M370 250H750V315H370Z"/>
<path class="g" d="M1480 365Q1495 380 1495 420V1230"/>
<use href="#rg" class="o"/><use href="#rg" class="i"/>
<g class="p">
<path d="M105 405Q130 390 215 395Q300 385 378 392V515Q300 530 215 520Q160 515 135 490H105L135 470V415Z"/>
<path d="M455 392Q530 385 610 395Q680 395 690 405V420H625V490H690Q680 520 620 525Q520 535 455 515Z"/>
<path d="M115 690H145L135 740L155 795L115 800Z"/><path d="M248 680H318V815H248Z"/>
<path d="M450 720Q470 680 550 680H605V800H550Q470 810 450 770Z"/>
<path d="M135 980L180 955L255 985V1040L175 1110V1145H225V1180H170L130 1145Z"/>
<path d="M425 980L375 955L305 985V1040L385 1110V1145H335V1180H385L430 1145Z"/>
<path d="M635 970L675 1040L640 1150L595 1030Z"/>
<path d="M860 335H950L975 450L990 470L975 530L920 500H870L830 530L815 470L840 380Z"/>
<path d="M1120 330L1140 345H1170L1190 330L1185 400L1200 450L1190 545L1165 520L1150 545L1120 520Z"/>
<path d="M1352 320L1372 355L1385 480L1380 545L1325 545L1315 470L1330 370Z"/>
<path d="M915 705Q1050 690 1140 705L1265 745L1170 780Q1050 800 915 785L930 745Z"/>
<path d="M1350 730H1375V755H1350Z"/>
<path d="M825 950L845 965L850 1015L915 1020L965 1005L990 945L1050 1045L965 1100L975 1125L915 1170L855 1100L810 1060Z"/>
<path d="M1375 950L1355 965L1350 1015L1285 1020L1235 1005L1210 945L1150 1045L1235 1100L1225 1125L1285 1170L1345 1100L1390 1060Z"/>
</g>
<circle cx="632" cy="1068" r="12" fill="#fdfdfb"/>
</g>
<g class="b"><circle cx="243" cy="1621"/><text x="243" y="1625.500">1</text><circle cx="329" cy="1621"/><text x="329" y="1625.500">2</text><circle cx="178" cy="1642"/><text x="178" y="1646.500">3</text><circle cx="267" cy="1645"/><text x="267" y="1649.500">4</text><circle cx="289" cy="1645"/><text x="289" y="1649.500">5</text><circle cx="177" cy="1737"/><text x="177" y="1741.500">6</text><circle cx="308" cy="1738"/><text x="308" y="1742.500">7</text><circle cx="330" cy="1735"/><text x="330" y="1739.500">8</text><circle cx="490" cy="1624"/><text x="490" y="1628.500">9</text><circle cx="513" cy="1627"/><text class="d" x="513" y="1631">10</text><circle cx="582" cy="1626"/><text class="d" x="582" y="1630">11</text><circle cx="447" cy="1708"/><text class="d" x="447" y="1712">12</text><circle cx="595" cy="1707"/><text class="d" x="595" y="1711">13</text><circle cx="505" cy="1732"/><text class="d" x="505" y="1736">14</text><circle cx="528" cy="1731"/><text class="d" x="528" y="1735">15</text></g>

<!-- H -->
<g transform="translate(700,1300) scale(.5102,.3699)">
<use href="#hp"/>
<g transform="translate(0,700)"><use href="#hp"/></g>
<ellipse cx="167" cy="460" rx="11" ry="15" class="rg"/><ellipse cx="230" cy="460" rx="11" ry="15" class="rg"/><ellipse cx="292" cy="460" rx="11" ry="15" class="rg"/><ellipse cx="355" cy="460" rx="11" ry="15" class="rg"/>
<ellipse cx="167" cy="703" rx="11" ry="15" class="rg"/><ellipse cx="230" cy="703" rx="11" ry="15" class="rg"/><ellipse cx="292" cy="703" rx="11" ry="15" class="rg"/><ellipse cx="355" cy="703" rx="11" ry="15" class="rg"/>
<!-- I -->
<path class="t" d="M1090 650H1130V1010H1090Z"/>
<path class="g" d="M1445 430Q1470 460 1470 500V1440Q1470 1485 1420 1485H1200Q1170 1485 1160 1445"/>
<g id="ri" class="o"><path d="M1130 1390V280Q1130 232 1175 232H1240Q1283 232 1283 280V370H1385Q1435 375 1435 430V1385Q1435 1435 1390 1435H1175Q1130 1435 1130 1390ZM1283 370V545M1283 680V1430M1130 615H1235M1330 615H1430M1235 1030H1330M1140 1285H1180M1235 1285H1330M1385 1285H1430M1285 465H1330M1385 465H1430M1355 380V430M1205 240V310M1140 375H1175M1240 375H1285M1205 485V550M1210 680V700M1355 680V700"/><ellipse cx="1283" cy="605" rx="50" ry="70"/></g>
<g class="i"><path d="M1130 1390V280Q1130 232 1175 232H1240Q1283 232 1283 280V370H1385Q1435 375 1435 430V1385Q1435 1435 1390 1435H1175Q1130 1435 1130 1390ZM1283 370V545M1283 680V1430M1130 615H1235M1330 615H1430M1235 1030H1330M1140 1285H1180M1235 1285H1330M1385 1285H1430M1285 465H1330M1385 465H1430M1355 380V430M1205 240V310M1140 375H1175M1240 375H1285M1205 485V550M1210 680V700M1355 680V700"/><ellipse cx="1283" cy="605" rx="50" ry="70"/></g>
<g class="p"><path d="M1180 700H1232V1355Q1206 1380 1180 1355Z"/><path d="M1330 700H1382V1355Q1356 1380 1330 1355Z"/><ellipse cx="1355" cy="465" rx="27" ry="40"/></g>
<path class="rg" d="M1178 320L1190 305H1225L1237 320V370L1225 385H1190L1178 370Z"/><path class="rg" d="M1178 410L1190 395H1225L1237 410V470L1225 485H1190L1178 470Z"/>
</g>
<g stroke="#000" stroke-width="5.500" stroke-linecap="butt">
<line x1="777" y1="1718" x2="797" y2="1740"/><line x1="797" y1="1718" x2="777" y2="1740"/><line x1="809" y1="1718" x2="829" y2="1740"/><line x1="829" y1="1718" x2="809" y2="1740"/><line x1="841" y1="1718" x2="861" y2="1740"/><line x1="861" y1="1718" x2="841" y2="1740"/><line x1="872" y1="1718" x2="892" y2="1740"/><line x1="892" y1="1718" x2="872" y2="1740"/>
<line x1="777" y1="1807" x2="797" y2="1829"/><line x1="797" y1="1807" x2="777" y2="1829"/><line x1="809" y1="1807" x2="829" y2="1829"/><line x1="829" y1="1807" x2="809" y2="1829"/><line x1="841" y1="1807" x2="861" y2="1829"/><line x1="861" y1="1807" x2="841" y2="1829"/><line x1="872" y1="1807" x2="892" y2="1829"/><line x1="892" y1="1807" x2="872" y2="1829"/>
</g>
<g class="b"><circle cx="755" cy="1418"/><text x="755" y="1422.500">1</text><circle cx="887" cy="1418"/><text x="887" y="1422.500">1</text><circle cx="762" cy="1489"/><text x="762" y="1493.500">1</text><circle cx="886" cy="1489"/><text x="886" y="1493.500">1</text><circle cx="762" cy="1510"/><text x="762" y="1514.500">2</text><circle cx="886" cy="1510"/><text x="886" y="1514.500">2</text><circle cx="755" cy="1580"/><text x="755" y="1584.500">2</text><circle cx="888" cy="1580"/><text x="888" y="1584.500">2</text><circle cx="1011" cy="1413"/><text x="1011" y="1417.500">3</text><circle cx="1033" cy="1442"/><text x="1033" y="1446.500">4</text><circle cx="1102" cy="1441"/><text x="1102" y="1445.500">5</text><circle cx="951" cy="1583"/><text x="951" y="1587.500">6</text><circle cx="1027" cy="1552"/><text x="1027" y="1556.500">7</text><circle cx="1087" cy="1515"/><text x="1087" y="1519.500">8</text><circle cx="1116" cy="1563"/><text x="1116" y="1567.500">9</text>
<circle cx="755" cy="1677"/><text x="755" y="1681.500">1</text><circle cx="887" cy="1677"/><text x="887" y="1681.500">1</text><circle cx="762" cy="1748"/><text x="762" y="1752.500">1</text><circle cx="886" cy="1748"/><text x="886" y="1752.500">1</text><circle cx="762" cy="1769"/><text x="762" y="1773.500">2</text><circle cx="886" cy="1769"/><text x="886" y="1773.500">2</text><circle cx="755" cy="1839"/><text x="755" y="1843.500">2</text><circle cx="888" cy="1839"/><text x="888" y="1843.500">2</text><circle cx="1011" cy="1672"/><text x="1011" y="1676.500">3</text><circle cx="1033" cy="1701"/><text x="1033" y="1705.500">4</text><circle cx="1102" cy="1700"/><text x="1102" y="1704.500">5</text><circle cx="951" cy="1842"/><text x="951" y="1846.500">6</text><circle cx="1027" cy="1811"/><text x="1027" y="1815.500">7</text><circle cx="1087" cy="1774"/><text x="1087" y="1778.500">8</text><circle cx="1116" cy="1822"/><text x="1116" y="1826.500">9</text>
<circle cx="1305" cy="1540"/><text x="1305" y="1544.500">1</text><circle cx="1400" cy="1539"/><text x="1400" y="1543.500">2</text><circle cx="1306" cy="1515"/><text x="1306" y="1519.500">3</text><circle cx="1365" cy="1448"/><text x="1365" y="1452.500">4</text></g>

<!-- under-gate header -->
<rect x="470" y="1989" width="1064" height="47" rx="23" fill="#fff" stroke="#0a0a0a" stroke-width="4.500"/>
<path class="k" d="M102 1987H485Q497 2000 497 2012Q497 2026 485 2037H102Q71 2037 71 2012Q71 1987 102 1987Z"/>
<text x="99" y="2024" font-size="34" font-weight="700" fill="#fff" textLength="363" lengthAdjust="spacingAndGlyphs">アンダーゲートの切り方</text>
<path d="M519 2005L531 2012L519 2020Z" fill="#888"/>
<rect x="538" y="1997" width="161" height="31" rx="15.500" fill="#0a0a0a"/>
<text x="548" y="2021" font-size="23" font-weight="700" fill="#fff" textLength="146" lengthAdjust="spacingAndGlyphs">アンダーゲート</text>
<text x="707" y="2024" font-size="31" fill="#111" stroke="#111" stroke-width=".5" textLength="815" lengthAdjust="spacingAndGlyphs">マークの付いた部品は、下の図のようにキレイに切り取ります。</text>
<text x="92" y="2071" font-size="22" fill="#111" stroke="#111" stroke-width=".25" textLength="388" lengthAdjust="spacingAndGlyphs">※D⑬は下の図のように切り取ります。</text>
<rect x="656" y="2055" width="1.500" height="238" fill="#111"/><rect x="1098" y="2055" width="1.500" height="237" fill="#111"/>

<!-- left illustration -->
<g transform="translate(0,1920) scale(.5102,.3333)">
<path class="s" d="M240 507H650Q695 507 695 550V715L875 828H695V1060Q695 1103 650 1103H240Q195 1103 195 1060V550Q195 507 240 507Z"/>
<path class="s" d="M240 757H370Q415 765 417 835Q415 893 370 893H240M417 835Q480 940 660 950M430 842Q480 880 585 898"/>
<path class="p" d="M417 808L470 825V838L417 838Z"/>
<path d="M415 680V775M415 850V1050" stroke="#111" stroke-width="1.200" stroke-dasharray="9 3" fill="none"/>
<path d="M470 838H610" stroke="#111" stroke-width="1.200" stroke-dasharray="8 3" fill="none"/>
<path class="k" d="M405 770H427L416 795ZM555 838L580 828V848Z"/>
<path d="M525 730L440 810" class="s" style="stroke-width:1"/>
<rect x="523" y="610" width="92" height="150" rx="6" fill="#fff" stroke="#111" stroke-width="2"/>
<path class="k" d="M530 630L555 670L575 690L605 750L590 752L565 700L550 680ZM550 630L570 670L585 690L610 720V735L575 700L555 670Z"/>
<ellipse cx="566" cy="685" rx="14" ry="21" class="k"/>
<path class="s" d="M958 483L1003 545L1010 640L1050 695L1035 745M930 535L965 585L975 690L1030 745"/>
<use href="#pt"/>
<path class="s" d="M775 870L810 850M790 935L850 895L845 860Q860 840 915 825Q945 835 935 875L835 960Q815 965 800 935M855 1020L905 985L905 945L940 925Q985 910 995 950Q990 975 900 1040Q880 1050 860 1020M915 750L922 800M937 750L928 795M1168 555L1155 635"/>
<path class="p" d="M935 835L950 825L950 850L938 855Z"/><path class="p" d="M985 915L1005 905L1005 925Z"/>
</g>
<text x="569" y="2100" font-size="42" fill="#111">D</text>
<circle cx="616" cy="2088" r="13" fill="#050505"/><text x="616" y="2093" font-size="14" font-weight="700" fill="#fff" text-anchor="middle" letter-spacing="-1">13</text>
<circle cx="213" cy="2131" r="15" fill="#050505"/><text x="213" y="2139" font-size="22" font-weight="700" fill="#fff" text-anchor="middle">1</text>
<circle cx="327" cy="2199" r="15" fill="#050505"/><text x="327" y="2207" font-size="22" font-weight="700" fill="#fff" text-anchor="middle">2</text>
<circle cx="691" cy="2077" r="18" fill="#050505"/><text x="691" y="2087" font-size="27" font-weight="700" fill="#fff" text-anchor="middle">1</text>
<circle cx="1137" cy="2078" r="16" fill="#333"/><text x="1137" y="2087" font-size="24" font-weight="700" fill="#fff" text-anchor="middle">2</text>

<!-- right illustration -->
<g transform="translate(800,1920) scale(.5102,.3333)">
<path class="s" d="M-153 455L-98 545Q-50 575 0 610L75 665L155 850L145 875L0 860L-70 815L-118 750L-150 660L-180 530M-203 600H-143M-213 665H-148M-213 685H-168M-140 610L-80 700L-45 620"/>
<ellipse class="s" cx="-15" cy="770" rx="35" ry="53"/>
<path class="p" d="M0 850L60 745L155 850L145 875Z"/>
<path class="s" d="M175 840L205 828M170 865L210 880M150 895L165 950M165 890L195 925"/>
<path class="k" d="M222 955V820H215L235 748L258 820H245V955Z"/>
<path class="s" d="M68 1010L120 975Q130 1000 115 1030M115 1030L185 970Q215 955 225 990Q220 1020 175 1050L130 1095L85 1070L140 1030M175 1050Q200 1070 200 1115M200 1075L250 1050Q290 1060 285 1100L275 1115"/>
<g transform="translate(-720,-225)"><use href="#pt"/></g>
<path class="sw" d="M210 615L235 605L240 625L215 640ZM275 690L290 685L290 710L280 715Z"/>
<path class="s" d="M640 870L730 770L845 665L1005 650L1018 675L930 825L825 915L715 1000L680 920Q645 960 625 1030M885 680L920 740L1005 655M745 750L690 890L765 830L715 855M690 890L815 850L780 935L930 780L920 740M715 1000Q725 1060 688 1120M1020 620L1035 575M1030 615L1060 600M1035 655L1075 645M1035 680L1068 695M945 830L960 870"/>
<ellipse class="s" cx="825" cy="768" rx="40" ry="60"/>
<path class="k" d="M1118 960V630H1105L1128 560L1150 630H1140V960Z"/>
<path class="p" d="M1052 430L1088 415L1085 445L1070 458Z"/><path class="p" d="M1112 510L1140 492L1128 535Z"/>
<path class="s" d="M1075 860Q1110 845 1150 845Q1230 760 1250 730L1325 702L1335 720Q1340 830 1280 920Q1220 990 1170 1010Q1110 1010 1075 985ZM1145 850Q1220 790 1265 745L1300 730M1325 720Q1325 830 1260 920Q1210 975 1165 995M1220 810L1245 820L1250 880L1235 875ZM1260 870L1290 885L1265 930ZM1095 870V970"/>
<ellipse class="s" cx="1175" cy="895" rx="8" ry="14"/>
<path class="k" d="M1118 960V700H1140V960Z"/>
</g>

<!-- watermark -->
<g class="wm">
<text transform="translate(975,2050) rotate(-23)" font-size="50" font-style="italic" textLength="465" lengthAdjust="spacingAndGlyphs">http://vertony.net</text>
<text transform="translate(1040,2143) rotate(-25)" font-size="46" textLength="445" lengthAdjust="spacingAndGlyphs">圖片僅供模型迷參考,</text>
<text transform="translate(1070,2237) rotate(-27)" font-size="46" textLength="445" lengthAdjust="spacingAndGlyphs">列印版權歸原作者所有</text>
</g>

<!-- logo -->
<rect x="1422.500" y="2233.500" width="80" height="81" fill="url(#lg)" stroke="#f2b21a" stroke-width="3"/>
<text x="1428" y="2271" font-size="34" font-weight="700" fill="#f5b52a" textLength="69" lengthAdjust="spacingAndGlyphs">VERTONY</text>
<text x="1445" y="2297" font-size="30" font-weight="700" fill="#f5b52a" textLength="36" lengthAdjust="spacingAndGlyphs">.NET</text>

<text x="62" y="2368" font-size="32" fill="#111">6</text>
</svg>
</body></html>
